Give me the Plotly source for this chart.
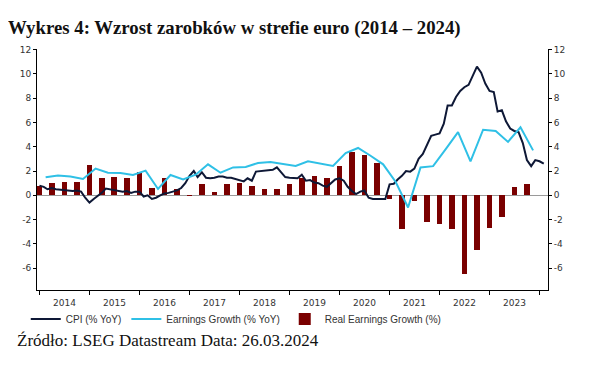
import pandas as pd
import plotly.graph_objects as go

# ---- data ----
cpi_start = "2014-01-01"
cpi_yoy = [
    0.8, 0.7, 0.5, 0.6, 0.5, 0.45, 0.4, 0.4, 0.35, 0.4, 0.3, -0.2,      # 2014
    -0.6, -0.3, -0.05, 0.2, 0.55, 0.5, 0.45, 0.4, 0.3, 0.35, 0.2, 0.3,  # 2015
    0.3, -0.1, 0.0, -0.3, -0.2, 0.0, 0.15, 0.2, 0.3, 0.4, 0.6, 1.0,     # 2016
    1.6, 2.0, 1.5, 1.9, 1.45, 1.4, 1.45, 1.55, 1.55, 1.45, 1.45, 1.35,  # 2017
    1.3, 1.15, 1.4, 1.2, 1.95, 2.0, 2.05, 2.05, 2.1, 2.3, 1.9, 1.5,     # 2018
    1.45, 1.45, 1.4, 1.7, 1.2, 1.25, 1.05, 1.0, 0.8, 0.7, 1.0, 1.3,     # 2019
    1.4, 1.2, 0.7, 0.35, 0.1, 0.3, 0.4, -0.2, -0.3, -0.3, -0.3, -0.3,   # 2020
    0.9, 0.95, 1.3, 1.6, 2.0, 1.95, 2.2, 3.0, 3.4, 4.1, 4.9, 5.0,       # 2021
    5.1, 5.9, 7.4, 7.4, 8.1, 8.6, 8.9, 9.1, 9.9, 10.6, 10.1, 9.2,       # 2022
    8.6, 8.5, 6.9, 7.0, 6.1, 5.5, 5.3, 5.2, 4.3, 2.9, 2.4, 2.9,         # 2023
    2.8, 2.6,                                                           # 2024
]

quarter_start = "2014-01-01"
earnings_yoy = [
    1.48, 1.64, 1.55, 1.34,
    2.2, 1.86, 1.84, 1.67,
    2.03, 0.52, 1.67, 1.31,
    1.7, 2.55, 1.86, 2.3,
    2.33, 2.66, 2.74, 2.55,
    2.41, 2.8, 2.6, 2.41,
    3.48, 3.9, 3.26, 2.55,
    1.1, -1.0, 2.3, 2.4,
    3.8, 5.2, 2.8, 5.4,
    5.3, 4.4, 5.6, 3.7,
]
real_earnings = [
    0.8, 1.0, 1.1, 1.1,
    2.5, 1.4, 1.5, 1.4,
    1.9, 0.6, 1.4, 0.5,
    -0.05, 0.93, 0.3, 0.9,
    1.0, 0.8, 0.55, 0.55,
    0.93, 1.4, 1.6, 1.4,
    2.4, 3.6, 3.3, 2.7,
    -0.3, -2.8, -0.5, -2.2,
    -2.4, -2.8, -6.5, -4.5,
    -2.7, -1.8, 0.65, 0.9,
]

y_ticks = [-6, -4, -2, 0, 2, 4, 6, 8, 10, 12]
y_ticktext = [str(v) for v in y_ticks]

title_text = "Wykres 4: Wzrost zarobków w strefie euro (2014 – 2024)"
source_text = "Źródło: LSEG Datastream Data: 26.03.2024"
series_names = ["CPI (% YoY)", "Earnings Growth (% YoY)", "Real Earnings Growth (%)"]

# ---- positions ----
cpi_dates = pd.date_range(cpi_start, periods=len(cpi_yoy), freq="MS")
bar_dates = pd.date_range(quarter_start, periods=len(real_earnings), freq="QS")
earn_dates = bar_dates + pd.Timedelta(days=45)

fig = go.Figure()
fig.add_trace(go.Scatter(
    x=cpi_dates, y=cpi_yoy, name=series_names[0], mode="lines",
    line=dict(color="#0e1836", width=2),
))
fig.add_trace(go.Scatter(
    x=earn_dates, y=earnings_yoy, name=series_names[1], mode="lines",
    line=dict(color="#2fc0e6", width=2),
))
fig.add_trace(go.Bar(
    x=bar_dates, y=real_earnings, name=series_names[2],
    marker=dict(color="#7a0000", line=dict(width=0)),
    width=40 * 86400000,
))
# invisible trace to carry the right axis
fig.add_trace(go.Scatter(x=[cpi_dates[0]], y=[0], yaxis="y2", mode="markers",
                         marker=dict(opacity=0), showlegend=False, hoverinfo="skip"))

tick_font = dict(family="DejaVu Sans", size=9, color="#333333")

# the page body adds an 8 px offset; figure is sized and placed to compensate
fig.update_layout(
    width=586, height=357,
    margin=dict(l=22, r=46, t=41, b=75),
    paper_bgcolor="white", plot_bgcolor="white",
    showlegend=True,
    legend=dict(orientation="h", x=-0.022, y=-0.12, xanchor="left", yanchor="middle",
                font=dict(family="Liberation Sans", size=10, color="#333333"),
                traceorder="normal", itemwidth=30, bgcolor="rgba(0,0,0,0)"),
    title=dict(text="<b>" + title_text + "</b>", x=0, xref="container", xanchor="left",
               y=1 - 19 / 357, yref="container", yanchor="middle",
               font=dict(family="Liberation Serif", size=18.8, color="#111111")),
    xaxis=dict(
        type="date",
        range=["2013-12-14", "2024-03-03"],
        tick0="2014-01-01", dtick="M12", tickformat="%Y", ticklabelmode="period",
        ticks="outside", ticklen=4, tickcolor="#000000",
        showline=True, linecolor="#000000", linewidth=1,
        showgrid=False, tickfont=tick_font,
    ),
    yaxis=dict(
        range=[-7.8, 12.05], tickvals=y_ticks, ticktext=y_ticktext,
        ticks="outside", ticklen=3, tickcolor="#000000",
        showline=True, linecolor="#000000", linewidth=1,
        showgrid=False, zeroline=True, zerolinecolor="#9a9a9a", zerolinewidth=1,
        tickfont=tick_font,
    ),
    yaxis2=dict(
        overlaying="y", side="right", range=[-7.8, 12.05],
        tickvals=y_ticks, ticktext=y_ticktext,
        ticks="outside", ticklen=3, tickcolor="#000000",
        showline=True, linecolor="#000000", linewidth=1,
        showgrid=False, zeroline=False, tickfont=tick_font,
    ),
    bargap=0,
    annotations=[dict(
        text=source_text, xref="paper", yref="paper",
        x=-22 / 518, y=(282 - 332) / 241, xanchor="left", yanchor="middle",
        showarrow=False, font=dict(family="Liberation Serif", size=17, color="#111111"),
    )],
)

fig.write_html("out.html")
